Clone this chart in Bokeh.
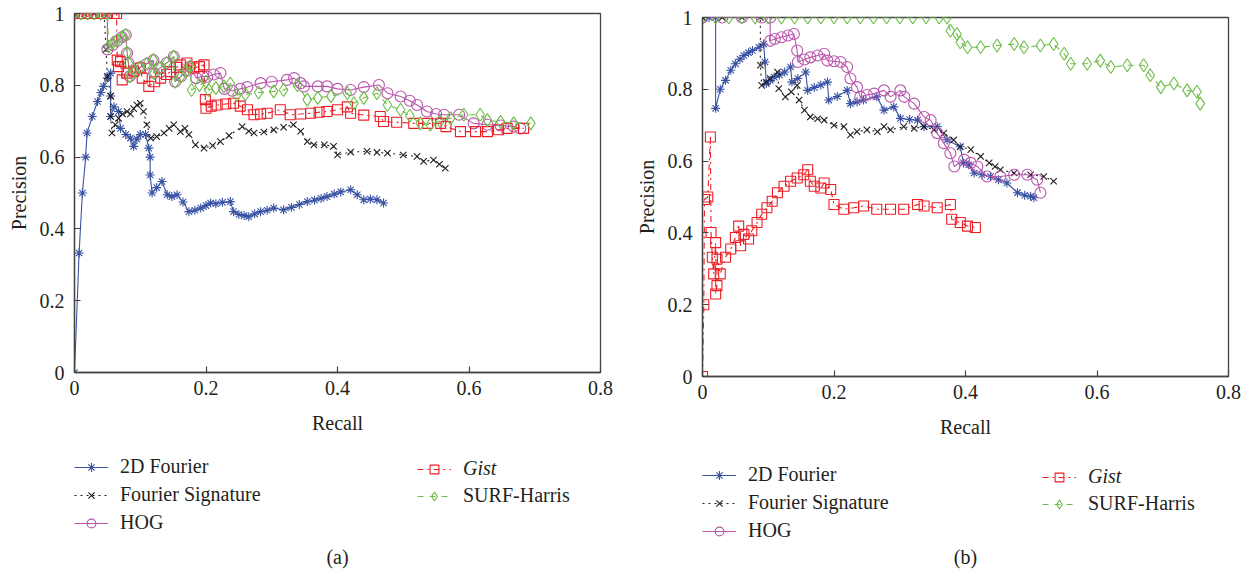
from bokeh.plotting import figure
from bokeh.models import Legend, LegendItem, Label, FixedTicker, Range1d
from bokeh.layouts import row, column
from bokeh.embed import file_html
from bokeh.resources import INLINE

# ---------------- data (recall, precision) ----------------
SERIES_NAMES = ["2D Fourier", "Fourier Signature", "HOG", "Gist", "SURF-Harris"]
X_TICKS = [0, 0.2, 0.4, 0.6, 0.8]
Y_TICKS = [0, 0.2, 0.4, 0.6, 0.8, 1.0]
X_TICK_LABELS = ["0", "0.2", "0.4", "0.6", "0.8"]
Y_TICK_LABELS = ["0", "0.2", "0.4", "0.6", "0.8", "1"]
CAPTIONS = ["(a)", "(b)"]

A_FOURIER2D = [(0, 0), (0.007, 0.333), (0.012, 0.5), (0.017, 0.6), (0.019, 0.667), (0.027, 0.713),
               (0.035, 0.755), (0.04, 0.78), (0.044, 0.797), (0.05, 0.82), (0.055, 0.834), (0.055, 0.77),
               (0.055, 0.713), (0.06, 0.74), (0.067, 0.727), (0.07, 0.68), (0.078, 0.663), (0.085, 0.653),
               (0.09, 0.63), (0.095, 0.65), (0.1, 0.663), (0.108, 0.663), (0.113, 0.625), (0.115, 0.6),
               (0.115, 0.55), (0.118, 0.5), (0.125, 0.515), (0.133, 0.532), (0.141, 0.495), (0.148, 0.49),
               (0.156, 0.495), (0.165, 0.475), (0.174, 0.448), (0.183, 0.452), (0.192, 0.458), (0.2, 0.465),
               (0.207, 0.472), (0.215, 0.47), (0.225, 0.474), (0.237, 0.476), (0.242, 0.448), (0.25, 0.44),
               (0.258, 0.437), (0.265, 0.434), (0.274, 0.442), (0.283, 0.448), (0.293, 0.452), (0.303, 0.458),
               (0.318, 0.453), (0.33, 0.46), (0.342, 0.468), (0.354, 0.476), (0.365, 0.48), (0.375, 0.485),
               (0.384, 0.49), (0.395, 0.497), (0.405, 0.503), (0.42, 0.509), (0.43, 0.495), (0.44, 0.481),
               (0.45, 0.483), (0.46, 0.481), (0.47, 0.472)]
A_FOURIER_SIG = [(0, 1), (0.015, 1), (0.03, 1), (0.045, 1), (0.048, 0.9), (0.05, 0.825), (0.055, 0.77),
                 (0.055, 0.713), (0.057, 0.667), (0.062, 0.69), (0.067, 0.708), (0.073, 0.72), (0.08, 0.727),
                 (0.085, 0.72), (0.09, 0.735), (0.095, 0.745), (0.1, 0.75), (0.105, 0.727), (0.11, 0.69),
                 (0.116, 0.653), (0.125, 0.657), (0.136, 0.667), (0.144, 0.68), (0.151, 0.69), (0.161, 0.671),
                 (0.168, 0.68), (0.174, 0.663), (0.184, 0.634), (0.197, 0.625), (0.21, 0.632), (0.222, 0.643),
                 (0.235, 0.66), (0.255, 0.685), (0.265, 0.672), (0.273, 0.667), (0.288, 0.67), (0.303, 0.676),
                 (0.318, 0.683), (0.333, 0.69), (0.344, 0.672), (0.354, 0.643), (0.364, 0.634), (0.38, 0.634),
                 (0.394, 0.63), (0.4, 0.606), (0.42, 0.614), (0.445, 0.616), (0.46, 0.613), (0.476, 0.611),
                 (0.5, 0.606), (0.521, 0.602), (0.531, 0.588), (0.546, 0.592), (0.555, 0.58), (0.564, 0.569)]
A_HOG = [(0, 1), (0.01, 1), (0.02, 1), (0.03, 1), (0.04, 1), (0.05, 1), (0.05, 0.9), (0.058, 0.912),
         (0.065, 0.924), (0.072, 0.934), (0.078, 0.94), (0.08, 0.89), (0.082, 0.862), (0.084, 0.825),
         (0.092, 0.838), (0.1, 0.85), (0.11, 0.86), (0.12, 0.87), (0.121, 0.834), (0.13, 0.848),
         (0.14, 0.862), (0.151, 0.88), (0.153, 0.81), (0.162, 0.825), (0.17, 0.84), (0.176, 0.852),
         (0.185, 0.82), (0.195, 0.825), (0.202, 0.824), (0.212, 0.83), (0.222, 0.834), (0.228, 0.79),
         (0.24, 0.785), (0.252, 0.79), (0.263, 0.795), (0.283, 0.806), (0.3, 0.81), (0.323, 0.815),
         (0.334, 0.82), (0.344, 0.806), (0.349, 0.797), (0.37, 0.797), (0.384, 0.797), (0.4, 0.79),
         (0.42, 0.787), (0.44, 0.795), (0.463, 0.801), (0.476, 0.778), (0.496, 0.769), (0.51, 0.757),
         (0.521, 0.745), (0.536, 0.727), (0.55, 0.72), (0.562, 0.718), (0.585, 0.718), (0.607, 0.694),
         (0.628, 0.69), (0.648, 0.688), (0.668, 0.685), (0.678, 0.68)]
A_GIST = [(0, 1), (0.01, 1), (0.02, 1), (0.03, 1), (0.04, 1), (0.05, 1), (0.06, 1), (0.064, 1),
          (0.065, 0.87), (0.067, 0.852), (0.07, 0.866), (0.0725, 0.815), (0.08, 0.834), (0.09, 0.84),
          (0.1, 0.848), (0.103, 0.82), (0.113, 0.797), (0.122, 0.81), (0.131, 0.82), (0.14, 0.83),
          (0.146, 0.838), (0.155, 0.85), (0.161, 0.857), (0.171, 0.862), (0.181, 0.848), (0.19, 0.852),
          (0.197, 0.857), (0.199, 0.76), (0.2, 0.736), (0.208, 0.742), (0.217, 0.745), (0.23, 0.748),
          (0.242, 0.75), (0.252, 0.742), (0.263, 0.732), (0.273, 0.718), (0.283, 0.72), (0.293, 0.722),
          (0.313, 0.732), (0.328, 0.718), (0.344, 0.72), (0.359, 0.722), (0.372, 0.725), (0.384, 0.727),
          (0.4, 0.732), (0.415, 0.74), (0.42, 0.722), (0.44, 0.717), (0.465, 0.713), (0.47, 0.699),
          (0.49, 0.697), (0.516, 0.694), (0.537, 0.694), (0.557, 0.694), (0.565, 0.685), (0.587, 0.671),
          (0.61, 0.671), (0.628, 0.671), (0.645, 0.676), (0.658, 0.68), (0.683, 0.68)]
A_SURF = [(0, 1), (0.01, 1), (0.02, 1), (0.03, 1), (0.04, 1), (0.05, 1), (0.052, 0.908), (0.058, 0.918),
          (0.065, 0.926), (0.072, 0.934), (0.078, 0.94), (0.08, 0.89), (0.082, 0.862), (0.084, 0.825),
          (0.092, 0.838), (0.1, 0.85), (0.11, 0.86), (0.12, 0.87), (0.121, 0.834), (0.13, 0.848),
          (0.14, 0.862), (0.151, 0.88), (0.153, 0.81), (0.162, 0.825), (0.17, 0.84), (0.176, 0.852),
          (0.178, 0.787), (0.19, 0.8), (0.2, 0.81), (0.204, 0.787), (0.215, 0.792), (0.227, 0.797),
          (0.237, 0.805), (0.247, 0.773), (0.26, 0.775), (0.28, 0.78), (0.303, 0.783), (0.318, 0.787),
          (0.339, 0.8), (0.354, 0.76), (0.37, 0.765), (0.39, 0.77), (0.415, 0.778), (0.425, 0.75),
          (0.44, 0.765), (0.46, 0.778), (0.476, 0.745), (0.496, 0.732), (0.51, 0.715), (0.526, 0.694),
          (0.541, 0.69), (0.556, 0.7), (0.572, 0.708), (0.592, 0.718), (0.617, 0.718), (0.628, 0.703),
          (0.648, 0.698), (0.668, 0.694), (0.694, 0.694)]

B_FOURIER2D = [(0, 1), (0.01, 1), (0.02, 1), (0.02, 0.747), (0.027, 0.8), (0.035, 0.825), (0.043, 0.853),
               (0.05, 0.871), (0.057, 0.884), (0.063, 0.894), (0.07, 0.902), (0.076, 0.908), (0.086, 0.917),
               (0.093, 0.926), (0.095, 0.876), (0.097, 0.816), (0.103, 0.825), (0.109, 0.834), (0.117, 0.84),
               (0.125, 0.848), (0.134, 0.862), (0.136, 0.82), (0.145, 0.83), (0.157, 0.848), (0.16, 0.797),
               (0.17, 0.805), (0.18, 0.812), (0.19, 0.82), (0.192, 0.77), (0.205, 0.78), (0.22, 0.797),
               (0.225, 0.76), (0.235, 0.765), (0.245, 0.77), (0.265, 0.779), (0.276, 0.742), (0.291, 0.751),
               (0.301, 0.719), (0.315, 0.716), (0.327, 0.714), (0.337, 0.696), (0.357, 0.696), (0.372, 0.659),
               (0.392, 0.64), (0.397, 0.595), (0.405, 0.59), (0.413, 0.567), (0.425, 0.562), (0.438, 0.557),
               (0.45, 0.548), (0.463, 0.539), (0.479, 0.512), (0.49, 0.505), (0.499, 0.502), (0.504, 0.498)]
B_FOURIER_SIG = [(0, 1), (0.03, 1), (0.06, 1), (0.088, 1), (0.088, 0.867), (0.09, 0.811), (0.097, 0.82),
                 (0.103, 0.83), (0.114, 0.848), (0.116, 0.802), (0.126, 0.779), (0.135, 0.793), (0.144, 0.811),
                 (0.147, 0.77), (0.155, 0.742), (0.164, 0.723), (0.175, 0.718), (0.185, 0.714), (0.2, 0.7),
                 (0.215, 0.696), (0.225, 0.673), (0.235, 0.682), (0.25, 0.687), (0.266, 0.682), (0.276, 0.696),
                 (0.286, 0.687), (0.306, 0.696), (0.322, 0.691), (0.337, 0.696), (0.352, 0.687), (0.367, 0.678),
                 (0.382, 0.659), (0.392, 0.64), (0.408, 0.632), (0.423, 0.613), (0.436, 0.595), (0.445, 0.585),
                 (0.453, 0.576), (0.474, 0.567), (0.499, 0.562), (0.519, 0.557), (0.534, 0.544)]
B_HOG = [(0, 1), (0.03, 1), (0.06, 1), (0.09, 1), (0.103, 1), (0.103, 0.935), (0.11, 0.94), (0.12, 0.945),
         (0.13, 0.95), (0.139, 0.954), (0.144, 0.908), (0.145, 0.876), (0.155, 0.883), (0.164, 0.889),
         (0.175, 0.894), (0.185, 0.899), (0.19, 0.88), (0.2, 0.878), (0.21, 0.876), (0.22, 0.862),
         (0.225, 0.83), (0.235, 0.806), (0.24, 0.779), (0.25, 0.784), (0.261, 0.788), (0.276, 0.797),
         (0.286, 0.779), (0.301, 0.797), (0.307, 0.779), (0.322, 0.76), (0.337, 0.723), (0.347, 0.714),
         (0.357, 0.678), (0.367, 0.65), (0.377, 0.622), (0.383, 0.585), (0.398, 0.604), (0.408, 0.595),
         (0.418, 0.585), (0.433, 0.557), (0.453, 0.557), (0.474, 0.562), (0.494, 0.562), (0.509, 0.548),
         (0.514, 0.512)]
B_GIST = [(0, 0), (0.002, 0.2), (0.003, 0.493), (0.008, 0.5), (0.012, 0.667), (0.013, 0.401), (0.015, 0.332),
          (0.017, 0.286), (0.02, 0.373), (0.02, 0.23), (0.022, 0.253), (0.022, 0.327), (0.027, 0.286),
          (0.035, 0.332), (0.043, 0.355), (0.05, 0.387), (0.055, 0.419), (0.058, 0.364), (0.063, 0.396),
          (0.07, 0.383), (0.075, 0.406), (0.083, 0.429), (0.09, 0.452), (0.098, 0.47), (0.106, 0.488),
          (0.114, 0.512), (0.124, 0.53), (0.134, 0.544), (0.144, 0.553), (0.154, 0.562), (0.16, 0.576),
          (0.164, 0.544), (0.17, 0.53), (0.18, 0.525), (0.185, 0.539), (0.195, 0.521), (0.2, 0.479),
          (0.215, 0.466), (0.23, 0.47), (0.245, 0.475), (0.265, 0.466), (0.286, 0.466), (0.306, 0.466),
          (0.327, 0.479), (0.337, 0.475), (0.357, 0.47), (0.377, 0.479), (0.379, 0.438), (0.392, 0.429),
          (0.403, 0.419), (0.415, 0.415)]
B_SURF = [(0, 1), (0.02, 1), (0.04, 1), (0.06, 1), (0.08, 1), (0.1, 1), (0.12, 1), (0.14, 1), (0.16, 1),
          (0.18, 1), (0.2, 1), (0.22, 1), (0.24, 1), (0.26, 1), (0.28, 1), (0.3, 1), (0.32, 1), (0.34, 1),
          (0.36, 1), (0.372, 1), (0.377, 0.963), (0.387, 0.954), (0.392, 0.931), (0.403, 0.917),
          (0.423, 0.917), (0.448, 0.922), (0.474, 0.926), (0.489, 0.917), (0.514, 0.922), (0.534, 0.926),
          (0.55, 0.899), (0.56, 0.871), (0.585, 0.871), (0.605, 0.88), (0.621, 0.862), (0.646, 0.867),
          (0.671, 0.867), (0.681, 0.839), (0.697, 0.806), (0.717, 0.816), (0.737, 0.797), (0.752, 0.793),
          (0.757, 0.76)]

# ---------------- styles ----------------
FONT = "Liberation Serif"
TXT = "#231f20"
STYLES = [
    dict(color="#3953a4", dash="solid", marker="asterisk", size=9),
    dict(color="#231f20", dash="dotted", marker="x", size=9),
    dict(color="#b955ad", dash="solid", marker="circle", size=11),
    dict(color="#ed1c24", dash="dashdot", marker="square", size=10),
    dict(color="#6cbd45", dash="dashed", marker="diamond", size=13),
]
PLOT_H = 440
LEG_H = 576 - PLOT_H


def style_axis(ax, ticks, labels, label_text, standoff, label_standoff):
    ax.ticker = FixedTicker(ticks=ticks)
    ax.major_label_overrides = {t: l for t, l in zip(ticks, labels)}
    ax.major_tick_in = 6
    ax.major_tick_out = 0
    ax.minor_tick_line_color = None
    ax.axis_line_color = "#444444"
    ax.axis_line_width = 1.3
    ax.major_tick_line_color = "#444444"
    ax.major_tick_line_width = 1.2
    ax.major_label_text_font = FONT
    ax.major_label_text_color = TXT
    ax.major_label_text_font_size = "20px"
    ax.major_label_standoff = standoff
    ax.axis_label = label_text
    ax.axis_label_text_font = FONT
    ax.axis_label_text_font_style = "normal"
    ax.axis_label_text_color = TXT
    ax.axis_label_text_font_size = "20px"
    ax.axis_label_standoff = label_standoff


def make_panel(series, caption, left, right, top, frame_bottom, col2_dx, leg_rows_top):
    p = figure(width=624, height=PLOT_H, x_range=Range1d(0, 0.8), y_range=Range1d(0, 1),
               output_backend="svg", toolbar_location=None,
               min_border_left=left, min_border_right=right,
               min_border_top=top, min_border_bottom=PLOT_H - frame_bottom)
    p.xgrid.visible = False
    p.ygrid.visible = False
    p.outline_line_color = "#444444"
    p.outline_line_width = 1.3
    style_axis(p.xaxis[0], X_TICKS, X_TICK_LABELS, "Recall", 8, 14)
    style_axis(p.yaxis[0], Y_TICKS, Y_TICK_LABELS, "Precision", 10, 7)

    # legend / caption strip under the plot; its frame is aligned with the plot frame.
    # Its ranges are far away from the data, so the copies of the series drawn there
    # stay out of view and only serve as legend glyphs.
    lg = figure(width=624, height=LEG_H, x_range=Range1d(10, 11), y_range=Range1d(10, 11),
                output_backend="svg", toolbar_location=None,
                x_axis_location=None, y_axis_location=None,
                min_border_left=left, min_border_right=right, min_border_top=0, min_border_bottom=0)
    lg.xgrid.visible = False
    lg.ygrid.visible = False
    lg.outline_line_color = None

    items = []
    for name, data, st in zip(SERIES_NAMES, series, STYLES):
        xs = [d[0] for d in data]
        ys = [d[1] for d in data]
        kw_line = dict(line_color=st["color"], line_width=1.1, line_dash=st["dash"])
        kw_mark = dict(marker=st["marker"], size=st["size"], line_color=st["color"],
                       fill_color=None, line_width=1.1)
        p.line(xs, ys, **kw_line)
        p.scatter(xs, ys, **kw_mark)
        l2 = lg.line(xs, ys, **kw_line)
        s2 = lg.scatter(xs, ys, **kw_mark)
        items.append(LegendItem(label=name, renderers=[l2, s2]))

    common = dict(background_fill_alpha=0, border_line_color=None, label_text_font=FONT,
                  label_text_color=TXT, label_text_font_size="20px", glyph_width=34,
                  glyph_height=22, label_height=22, label_standoff=12, spacing=5,
                  padding=0, margin=0, orientation="vertical")
    row_h = 27
    top0 = leg_rows_top
    leg1 = Legend(items=items[0:3], location=(0, LEG_H - (top0 + 3 * 22 + 2 * 5)), **common)
    leg2 = Legend(items=[items[3]], location=(col2_dx, LEG_H - (top0 + 22)),
                  label_text_font_style="italic", **common)
    leg3 = Legend(items=[items[4]], location=(col2_dx, LEG_H - (top0 + row_h + 22)), **common)
    for l in (leg1, leg2, leg3):
        lg.add_layout(l)

    fw = 624 - left - right
    lg.add_layout(Label(x=fw / 2, y=20, x_units="screen", y_units="screen", text=caption,
                        text_align="center", text_baseline="middle", text_font=FONT,
                        text_font_size="20px", text_color=TXT))
    return column(p, lg)


pa = make_panel([A_FOURIER2D, A_FOURIER_SIG, A_HOG, A_GIST, A_SURF], CAPTIONS[0],
                74, 24, 13, 372, 343, 18)
pb = make_panel([B_FOURIER2D, B_FOURIER_SIG, B_HOG, B_GIST, B_SURF], CAPTIONS[1],
                78, 20, 17, 378, 340, 26)

layout = row(pa, pb)
open("out.html", "w").write(file_html(layout, INLINE))
